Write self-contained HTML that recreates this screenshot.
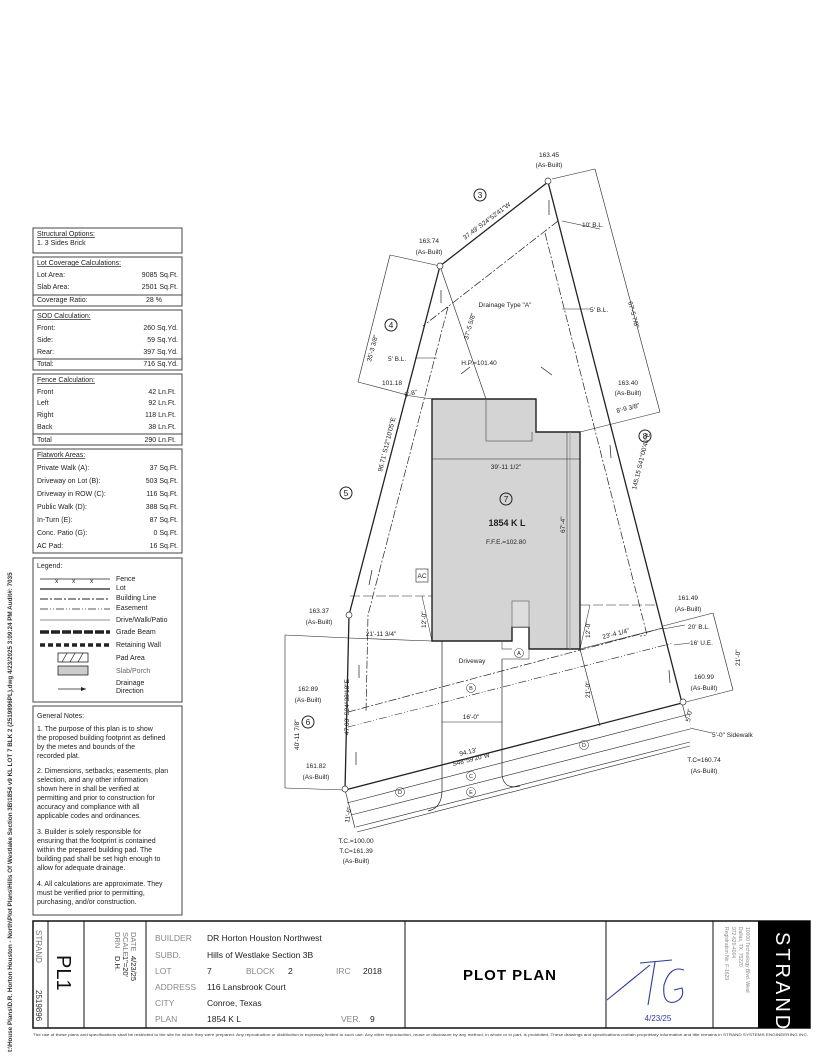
<!DOCTYPE html>
<html><head><meta charset="utf-8"><style>
html,body{margin:0;padding:0;background:#fff}
svg{display:block}
text{font-family:"Liberation Sans",sans-serif}
.t{font-size:7px}
.s{font-size:6.5px}
.u{text-decoration:underline}
</style></head><body>
<svg width="825" height="1056" viewBox="0 0 825 1056" xmlns="http://www.w3.org/2000/svg" fill="#222">
<rect width="825" height="1056" fill="#fff"/>
<!-- left file path -->
<text x="0" y="0" transform="translate(12,1052) rotate(-90)" style="font-size:6.3px;font-weight:bold;fill:#333">t:\House Plans\D.R. Horton Houston - North\Plot Plans\Hills Of Westlake Section 3B\1854 v9 KL LOT 7 BLK 2 (2519896PL).dwg 4/23/2025 3:09:24 PM  Audit#: 7035</text>

<!-- LEFT TABLES -->
<g fill="none" stroke="#444" stroke-width="1">
<rect x="33" y="228" width="149" height="25"/>
<rect x="33" y="257" width="149" height="49"/><line x1="33" y1="295" x2="182" y2="295"/>
<rect x="33" y="310" width="149" height="60"/><line x1="33" y1="359" x2="182" y2="359"/>
<rect x="33" y="374" width="149" height="71"/><line x1="33" y1="434" x2="182" y2="434"/>
<rect x="33" y="449" width="149" height="104"/>
<rect x="33" y="558" width="149" height="144"/>
<rect x="33" y="706" width="149" height="209"/>
</g>
<g class="t">
<text x="37" y="236" class="u">Structural Options:</text><text x="37" y="245">1. 3 Sides Brick</text>
<text x="37" y="265" class="u">Lot Coverage Calculations:</text>
<text x="37" y="277">Lot Area:</text><text x="178" y="277" text-anchor="end">9085 Sq.Ft.</text>
<text x="37" y="289">Slab Area:</text><text x="178" y="289" text-anchor="end">2501 Sq.Ft.</text>
<text x="37" y="302">Coverage Ratio:</text><text x="162" y="302" text-anchor="end">28 %</text>
<text x="37" y="318" class="u">SOD Calculation:</text>
<text x="37" y="330">Front:</text><text x="178" y="330" text-anchor="end">260 Sq.Yd.</text>
<text x="37" y="342">Side:</text><text x="178" y="342" text-anchor="end">59 Sq.Yd.</text>
<text x="37" y="354">Rear:</text><text x="178" y="354" text-anchor="end">397 Sq.Yd.</text>
<text x="37" y="366">Total:</text><text x="178" y="366" text-anchor="end">716 Sq.Yd.</text>
<text x="37" y="382" class="u">Fence Calculation:</text>
<text x="37" y="394">Front</text><text x="176" y="394" text-anchor="end">42 Ln.Ft.</text>
<text x="37" y="405">Left</text><text x="176" y="405" text-anchor="end">92 Ln.Ft.</text>
<text x="37" y="417">Right</text><text x="176" y="417" text-anchor="end">118 Ln.Ft.</text>
<text x="37" y="429">Back</text><text x="176" y="429" text-anchor="end">38 Ln.Ft.</text>
<text x="37" y="442">Total</text><text x="176" y="442" text-anchor="end">290 Ln.Ft.</text>
<text x="37" y="457" class="u">Flatwork Areas:</text>
<text x="37" y="470">Private Walk (A):</text><text x="178" y="470" text-anchor="end">37  Sq.Ft.</text>
<text x="37" y="483">Driveway on Lot (B):</text><text x="178" y="483" text-anchor="end">503  Sq.Ft.</text>
<text x="37" y="496">Driveway in ROW (C):</text><text x="178" y="496" text-anchor="end">116  Sq.Ft.</text>
<text x="37" y="509">Public Walk (D):</text><text x="178" y="509" text-anchor="end">388  Sq.Ft.</text>
<text x="37" y="522">In-Turn (E):</text><text x="178" y="522" text-anchor="end">87  Sq.Ft.</text>
<text x="37" y="535">Conc. Patio (G):</text><text x="178" y="535" text-anchor="end">0  Sq.Ft.</text>
<text x="37" y="548">AC Pad:</text><text x="178" y="548" text-anchor="end">16  Sq.Ft.</text>
<!-- legend -->
<text x="37" y="568">Legend:</text>
<text x="116" y="581">Fence</text><text x="116" y="590">Lot</text>
<text x="116" y="600">Building Line</text><text x="116" y="610">Easement</text>
<text x="116" y="622">Drive/Walk/Patio</text><text x="116" y="634">Grade Beam</text>
<text x="116" y="647">Retaining Wall</text><text x="116" y="660">Pad Area</text>
<text x="116" y="673" style="fill:#666">Slab/Porch</text><text x="116" y="685">Drainage</text><text x="116" y="693">Direction</text>
<!-- notes -->
<text x="37" y="718">General Notes:</text>
<text x="37" y="731">1. The purpose of this plan is to show</text>
<text x="37" y="740">the proposed building footprint as defined</text>
<text x="37" y="749">by the metes and bounds of the</text>
<text x="37" y="758">recorded plat.</text>
<text x="37" y="773">2. Dimensions, setbacks, easements, plan</text>
<text x="37" y="782">selection, and any other information</text>
<text x="37" y="791">shown here in shall be verified at</text>
<text x="37" y="800">permitting and prior to construction for</text>
<text x="37" y="809">accuracy and compliance with all</text>
<text x="37" y="818">applicable codes and ordinances.</text>
<text x="37" y="834">3. Builder is solely responsible for</text>
<text x="37" y="843">ensuring that the footprint is contained</text>
<text x="37" y="852">within the prepared building pad. The</text>
<text x="37" y="861">building pad shall be set high enough to</text>
<text x="37" y="870">allow for adequate drainage.</text>
<text x="37" y="886">4. All calculations are approximate. They</text>
<text x="37" y="895">must be verified prior to permitting,</text>
<text x="37" y="904">purchasing, and/or construction.</text>
</g>
<g stroke="#222" fill="none">
<line x1="40" y1="579" x2="110" y2="579" stroke-width="0.8"/>
<line x1="40" y1="589" x2="110" y2="589" stroke-width="1.2"/>
<line x1="40" y1="599" x2="110" y2="599" stroke-dasharray="8,2,2,2"/>
<line x1="40" y1="609" x2="110" y2="609" stroke-width="0.7" stroke-dasharray="8,2,1,2,1,2"/>
<line x1="40" y1="620" x2="110" y2="620" stroke-width="0.6"/>
<line x1="40" y1="632" x2="110" y2="632" stroke-width="3.5" stroke-dasharray="9,2"/>
<line x1="40" y1="645" x2="110" y2="645" stroke-width="3.5" stroke-dasharray="5,3"/>
<rect x="58" y="653" width="30" height="9" stroke-width="0.8"/>
<path d="M62 662 L67 653 M70 662 L75 653 M78 662 L83 653" stroke-width="0.7"/>
<rect x="58" y="666" width="30" height="9" fill="#ccc" stroke-width="0.8"/>
<line x1="58" y1="689" x2="86" y2="689" stroke-width="0.8"/>
</g>
<path d="M86 689 l-5 -2 v4z" fill="#222"/>
<text x="55" y="583" class="s">x</text><text x="72" y="583" class="s">x</text><text x="90" y="583" class="s">x</text>

<!-- PLOT DRAWING -->
<path d="M432 399 L536 399 L536 432 L580 432 L580 649 L529 649 L529 627 L512 627 L512 641 L432 641 Z" fill="#d4d4d4" stroke="#222" stroke-width="1.4"/>
<line x1="570" y1="432" x2="570" y2="649" stroke="#999" stroke-width="0.8"/>
<path d="M486 399 L486 441 L532 441 L532 432" fill="none" stroke="#666" stroke-width="0.8"/>
<rect x="512" y="601" width="17" height="26" fill="#ddd" stroke="#777" stroke-width="0.8"/>
<rect x="416" y="569" width="12" height="13" fill="none" stroke="#555" stroke-width="0.8"/>
<text x="422" y="578" class="s" text-anchor="middle">AC</text>
<path d="M502 641 L502 649 L512 649 M529 649 L529 659 L502 659" fill="none" stroke="#666" stroke-width="0.7"/>

<g fill="none" stroke="#222">
<path d="M548 182 L440 266 L349 615 L345 790 L682 703 Z" stroke-width="1.3"/>
<line x1="558" y1="221" x2="423" y2="326" stroke-width="0.7" stroke-dasharray="8,2,2,2"/>
<path d="M448 307 L368 615 L366 712" stroke-width="0.7" stroke-dasharray="8,2,2,2"/>
<path d="M545 233 L647 635 L640 636" stroke-width="0.7" stroke-dasharray="8,2,2,2"/>
<line x1="348" y1="712" x2="663" y2="628" stroke-width="0.7" stroke-dasharray="8,2,2,2"/>
<line x1="348" y1="727" x2="673" y2="643" stroke-width="0.6" stroke-dasharray="8,2,1,2,1,2"/>
<line x1="347" y1="803" x2="690" y2="714" stroke-width="0.6"/>
<line x1="351" y1="815" x2="690" y2="729" stroke-width="0.6"/>
<line x1="356" y1="827" x2="690" y2="742" stroke-width="0.6"/>
<line x1="357" y1="832" x2="690" y2="746" stroke-width="0.6"/>
<path d="M442 641 L442 790 Q442 808 428 811" stroke-width="0.7"/>
<path d="M502 659 L502 775 Q504 790 520 786" stroke-width="0.7"/>
<line x1="350" y1="596" x2="432" y2="596" stroke-width="0.6" stroke-dasharray="10,3"/>
<line x1="580" y1="605" x2="656" y2="605" stroke-width="0.6" stroke-dasharray="10,3"/>
<line x1="390" y1="255" x2="358" y2="382" stroke-width="0.6"/>
<line x1="358" y1="382" x2="411" y2="396" stroke-width="0.6"/>
<line x1="390" y1="255" x2="440" y2="266" stroke-width="0.6"/>
<line x1="595" y1="169" x2="660" y2="412" stroke-width="0.6"/>
<line x1="552" y1="179" x2="595" y2="169" stroke-width="0.6"/>
<line x1="580" y1="432" x2="660" y2="412" stroke-width="0.6"/>
<line x1="440" y1="266" x2="486" y2="399" stroke-width="0.6"/>
<line x1="411" y1="396" x2="432" y2="399" stroke-width="0.6"/>
<line x1="432" y1="459" x2="580" y2="459" stroke-width="0.6"/>
<line x1="567" y1="432" x2="567" y2="649" stroke-width="0.5"/>
<line x1="285" y1="635" x2="285" y2="788" stroke-width="0.6"/>
<line x1="285" y1="635" x2="349" y2="638" stroke-width="0.6"/>
<line x1="285" y1="788" x2="345" y2="790" stroke-width="0.6"/>
<line x1="349" y1="638" x2="432" y2="641" stroke-width="0.6"/>
<line x1="580" y1="649" x2="663" y2="628" stroke-width="0.6"/>
<line x1="713" y1="613" x2="733" y2="690" stroke-width="0.6"/>
<line x1="663" y1="626" x2="713" y2="613" stroke-width="0.6"/>
<line x1="682" y1="703" x2="733" y2="690" stroke-width="0.6"/>
<line x1="580" y1="649" x2="600" y2="726" stroke-width="0.6"/>
<line x1="442" y1="722" x2="502" y2="722" stroke-width="0.6"/>
<line x1="345" y1="790" x2="355" y2="828" stroke-width="0.6"/>
<line x1="682" y1="703" x2="686" y2="718" stroke-width="0.6"/>
<line x1="422" y1="596" x2="432" y2="641" stroke-width="0.5"/>
<line x1="590" y1="605" x2="580" y2="649" stroke-width="0.5"/>
<line x1="441" y1="290" x2="441" y2="303" stroke-width="0.7"/>
<line x1="372" y1="570" x2="369" y2="585" stroke-width="0.7"/>
<line x1="359" y1="665" x2="359" y2="678" stroke-width="0.7"/>
<line x1="356" y1="752" x2="356" y2="765" stroke-width="0.7"/>
<line x1="610" y1="445" x2="611" y2="458" stroke-width="0.7"/>
<line x1="669" y1="670" x2="670" y2="683" stroke-width="0.7"/>
<line x1="549" y1="200" x2="549" y2="215" stroke-width="0.7"/>
<line x1="470" y1="367" x2="461" y2="374" stroke-width="0.7"/>
<line x1="541" y1="367" x2="552" y2="375" stroke-width="0.7"/>
<line x1="600" y1="229" x2="562" y2="221" stroke-width="0.6"/>
<line x1="590" y1="309" x2="562" y2="309" stroke-width="0.6"/>
<line x1="415" y1="358" x2="437" y2="358" stroke-width="0.6"/>
<line x1="685" y1="625" x2="663" y2="629" stroke-width="0.6"/>
<line x1="690" y1="643" x2="674" y2="645" stroke-width="0.6"/>
<line x1="712" y1="733" x2="690" y2="728" stroke-width="0.6"/>
</g>
<g fill="#fff" stroke="#333" stroke-width="0.7">
<circle cx="548" cy="181" r="3"/><circle cx="440" cy="266" r="3"/>
<circle cx="349" cy="615" r="3"/><circle cx="345" cy="789" r="3"/><circle cx="683" cy="702" r="3"/>
</g>
<g fill="none" stroke="#222" stroke-width="1">
<circle cx="480" cy="195" r="6"/><circle cx="391" cy="325" r="6"/><circle cx="346" cy="493" r="6"/>
<circle cx="506" cy="499" r="6"/><circle cx="645" cy="436" r="6"/><circle cx="308" cy="722" r="6"/>
</g>
<g font-size="8.5px" text-anchor="middle">
<text x="480" y="198">3</text><text x="391" y="328">4</text><text x="346" y="496">5</text>
<text x="506" y="502">7</text><text x="645" y="439">8</text><text x="308" y="725">6</text>
</g>
<g fill="none" stroke="#444" stroke-width="0.6">
<circle cx="519" cy="653" r="4.5"/><circle cx="471" cy="688" r="4.5"/><circle cx="471" cy="776" r="4.5"/>
<circle cx="471" cy="792" r="4.5"/><circle cx="400" cy="792" r="4.5"/><circle cx="584" cy="745" r="4.5"/>
</g>
<g font-size="5.5px" text-anchor="middle">
<text x="519" y="655">A</text><text x="471" y="690">B</text><text x="471" y="778">C</text>
<text x="471" y="794">E</text><text x="400" y="794">D</text><text x="584" y="747">D</text>
</g>
<g class="s" text-anchor="middle">
<text x="549" y="157">163.45</text><text x="549" y="167">(As-Built)</text>
<text x="429" y="243">163.74</text><text x="429" y="254">(As-Built)</text>
<text x="628" y="385">163.40</text><text x="628" y="395">(As-Built)</text>
<text x="319" y="613">163.37</text><text x="319" y="624">(As-Built)</text>
<text x="308" y="691">162.89</text><text x="308" y="702">(As-Built)</text>
<text x="316" y="768">161.82</text><text x="316" y="779">(As-Built)</text>
<text x="688" y="600">161.49</text><text x="688" y="611">(As-Built)</text>
<text x="704" y="679">160.99</text><text x="704" y="690">(As-Built)</text>
<text x="704" y="762">T.C=160.74</text><text x="704" y="773">(As-Built)</text>
<text x="356" y="843">T.C.=100.00</text><text x="356" y="853">T.C=161.39</text><text x="356" y="863">(As-Built)</text>
<text x="505" y="307">Drainage  Type "A"</text>
<text x="479" y="365">H.P.=101.40</text>
<text x="392" y="385">101.18</text>
<text x="506" y="469">39'-11  1/2"</text>
<text x="507" y="526" style="font-size:9px;font-weight:bold">1854  K  L</text>
<text x="506" y="544">F.F.E.=102.80</text>
<text x="472" y="663">Driveway</text>
<text x="471" y="719">16'-0"</text>
<text x="381" y="636">21'-11  3/4"</text>
</g>
<g class="s">
<text x="582" y="227">10' B.L.</text><text x="590" y="312">5' B.L.</text>
<text x="388" y="361">5' B.L.</text><text x="688" y="629">20' B.L.</text>
<text x="690" y="645">16' U.E.</text><text x="712" y="737">5'-0"  Sidewalk</text>
<text x="0" y="0" transform="translate(465,240) rotate(-37)">37.49'  S24°52'41"W</text>
<text x="0" y="0" transform="translate(371,362) rotate(-75)">35'-3  3/8"</text>
<text x="0" y="0" transform="translate(628,302) rotate(75)">67'-5  7/8"</text>
<text x="0" y="0" transform="translate(468,340) rotate(-74)">37'-5  5/8"</text>
<text x="0" y="0" transform="translate(382,472) rotate(-76)">96.71'  S12°10'05"E</text>
<text x="0" y="0" transform="translate(636,490) rotate(-76)">145.15  S41°00'40"E</text>
<text x="617" y="413" transform="rotate(-14 617 413)">8'-9  3/8"</text>
<text x="405" y="397" transform="rotate(-14 405 397)">6'-8"</text>
<text x="0" y="0" transform="translate(565,533) rotate(-90)">67'-4"</text>
<text x="0" y="0" transform="translate(426,628) rotate(-90)">12'-0"</text>
<text x="0" y="0" transform="translate(590,638) rotate(-90)">12'-0"</text>
<text x="0" y="0" transform="translate(590,698) rotate(-90)">21'-0"</text>
<text x="0" y="0" transform="translate(740,666) rotate(-90)">21'-0"</text>
<text x="0" y="0" transform="translate(349,735) rotate(-90)">47.03'  S24°38'18"E</text>
<text x="0" y="0" transform="translate(299,750) rotate(-90)">40'-11  7/8"</text>
<text x="0" y="0" transform="translate(349,823) rotate(-80)">11'-6"</text>
<text x="0" y="0" transform="translate(690,722) rotate(-80)">5'-0"</text>
<text x="603" y="639" transform="rotate(-14 603 639)">23'-4  1/4"</text>
<text x="460" y="756" transform="rotate(-14 460 756)">94.13'</text>
<text x="453" y="766" transform="rotate(-14 453 766)">S48°59'20"W</text>
</g>

<!-- TITLE BLOCK -->
<g fill="none" stroke="#111">
<rect x="33" y="921" width="777" height="107" stroke-width="1.5"/>
<line x1="48" y1="921" x2="48" y2="1028"/><line x1="84" y1="921" x2="84" y2="1028"/>
<line x1="146" y1="921" x2="146" y2="1028"/><line x1="405" y1="921" x2="405" y2="1028"/>
<line x1="606" y1="921" x2="606" y2="1028"/><line x1="713" y1="921" x2="713" y2="1028"/>
</g>
<rect x="758" y="921" width="52" height="107" fill="#000"/>
<text x="0" y="0" transform="translate(36,930) rotate(90)" style="font-size:8px;fill:#777">STRAND</text>
<text x="0" y="0" transform="translate(36,990) rotate(90)" style="font-size:8px;fill:#333">2519896</text>
<text x="0" y="0" transform="translate(57,955) rotate(90)" style="font-size:20px;fill:#111">PL1</text>
<g style="font-size:7.5px;fill:#777">
<text x="0" y="0" transform="translate(131,932) rotate(90)">DATE</text>
<text x="0" y="0" transform="translate(123,932) rotate(90)">SCALE</text>
<text x="0" y="0" transform="translate(115,932) rotate(90)">DRN</text>
</g>
<g style="font-size:7.5px;fill:#222">
<text x="0" y="0" transform="translate(131,956) rotate(90)">4/23/25</text>
<text x="0" y="0" transform="translate(123,956) rotate(90)">1"=20'</text>
<text x="0" y="0" transform="translate(115,956) rotate(90)">D.H.</text>
</g>
<g style="font-size:8.5px">
<text x="155" y="941" style="fill:#888">BUILDER</text><text x="207" y="941">DR Horton Houston Northwest</text>
<text x="155" y="958" style="fill:#888">SUBD.</text><text x="207" y="958">Hills of Westlake Section 3B</text>
<text x="155" y="974" style="fill:#888">LOT</text><text x="207" y="974">7</text>
<text x="246" y="974" style="fill:#888">BLOCK</text><text x="288" y="974">2</text>
<text x="336" y="974" style="fill:#888">IRC</text><text x="363" y="974">2018</text>
<text x="155" y="990" style="fill:#888">ADDRESS</text><text x="207" y="990">116 Lansbrook Court</text>
<text x="155" y="1006" style="fill:#888">CITY</text><text x="207" y="1006">Conroe, Texas</text>
<text x="155" y="1022" style="fill:#888">PLAN</text><text x="207" y="1022">1854 K L</text>
<text x="341" y="1022" style="fill:#888">VER.</text><text x="370" y="1022">9</text>
</g>
<text x="510" y="980" text-anchor="middle" style="font-size:15px;font-weight:bold;letter-spacing:1px;fill:#000">PLOT PLAN</text>
<path d="M607 1000 L650 965 M640 963 L672 960 M655 962 L648 1005 M684 970 Q670 965 664 985 Q662 1005 675 1002 Q685 998 682 988 L674 990" fill="none" stroke="#2a3aa0" stroke-width="1.1"/>
<text x="658" y="1021" text-anchor="middle" style="font-size:8px;fill:#2a3aa0">4/23/25</text>
<g style="font-size:5px;fill:#888">
<text x="0" y="0" transform="translate(746,927) rotate(90)">10000 Technology Blvd. West</text>
<text x="0" y="0" transform="translate(739,927) rotate(90)">Dallas, TX. 75220</text>
<text x="0" y="0" transform="translate(732,927) rotate(90)">972-620-4004</text>
<text x="0" y="0" transform="translate(725,927) rotate(90)">Registration No. F-1629</text>
</g>
<text x="0" y="0" transform="translate(776,932) rotate(90)" style="font-size:20px;letter-spacing:3px;fill:#fff">STRAND</text>
<text x="33" y="1036" style="font-size:3.8px;fill:#333" textLength="775" lengthAdjust="spacingAndGlyphs">The use of these plans and specifications shall be restricted to the site for which they were prepared. Any reproduction or distribution is expressly limited to such use. Any other reproduction, reuse or disclosure by any method, in whole or in part, is prohibited. These drawings and specifications contain proprietary information and title remains in STRAND SYSTEMS ENGINEERING INC.</text>
</svg>
</body></html>
